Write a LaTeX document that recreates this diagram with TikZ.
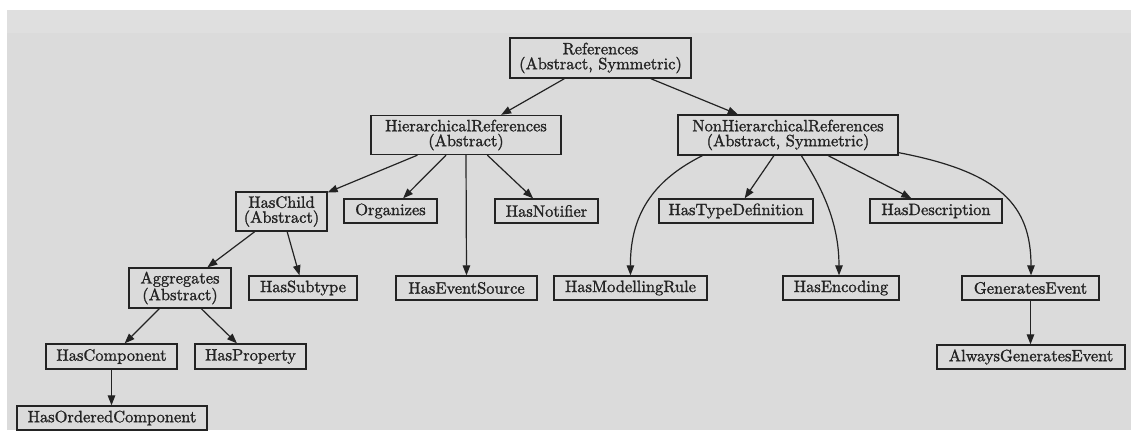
\documentclass[tikz,border=0pt]{standalone}
\usepackage{fontspec}
\newfontfamily\nodefont{lmroman10-regular}[Extension=.otf,FakeBold=1.4]
\usetikzlibrary{arrows.meta}
\definecolor{bg}{RGB}{219,219,219}
\definecolor{bgtop}{RGB}{223,223,223}
\definecolor{ink}{RGB}{35,35,35}
\tikzset{
  box/.style={draw=ink, line width=1.3bp, inner sep=0pt, align=center, text=ink,
    font=\nodefont\fontsize{16.5}{15}\selectfont, minimum height=24bp},
  tall/.style={minimum height=40bp},
  arr/.style={draw=ink, line width=1.2bp, -{Triangle[length=10bp,width=7.5bp]}},
}
\begin{document}
\begin{tikzpicture}[x=1bp,y=-1bp]
\useasboundingbox (0,0) rectangle (1131,430);
\fill[white] (0,0) rectangle (1131,430);
\fill[bg] (7,10) rectangle (1131,430);
\fill[bgtop] (7,10) rectangle (1131,33);

\node[box,tall,minimum width=181bp] (ref) at (600.5,58) {References\\(Abstract, Symmetric)};
\node[box,tall,minimum width=190bp,minimum height=39bp] (hier) at (466,135) {HierarchicalReferences\\(Abstract)};
\node[box,tall,minimum width=220bp] (nonh) at (788,135) {NonHierarchicalReferences\\(Abstract, Symmetric)};

\node[box,tall,minimum width=91bp,minimum height=39bp] (haschild) at (281.5,211.5) {HasChild\\(Abstract)};
\node[box,minimum width=93bp] (org) at (390.5,211) {Organizes};
\node[box,minimum width=103bp] (notif) at (546.5,211) {HasNotifier};
\node[box,minimum width=154bp] (typedef) at (736,211) {HasTypeDefinition};
\node[box,minimum width=132bp] (desc) at (936,211) {HasDescription};

\node[box,tall,minimum width=102bp] (aggr) at (180,288) {Aggregates\\(Abstract)};
\node[box,minimum width=108bp] (subtype) at (303,288) {HasSubtype};
\node[box,minimum width=141bp] (evsrc) at (466.5,288) {HasEventSource};
\node[box,minimum width=153bp] (modrule) at (630.5,288) {HasModellingRule};
\node[box,minimum width=116bp] (enc) at (841,288) {HasEncoding};
\node[box,minimum width=137bp] (genev) at (1030.5,288) {GeneratesEvent};

\node[box,minimum width=131bp,minimum height=25bp] (hascomp) at (111.5,356.5) {HasComponent};
\node[box,minimum width=111bp,minimum height=25bp] (hasprop) at (250.5,356.5) {HasProperty};
\node[box,minimum width=188bp] (always) at (1031,357) {AlwaysGeneratesEvent};

\node[box,minimum width=190bp] (ordered) at (112,418) {HasOrderedComponent};

\draw[arr] (ref) -- (hier);
\draw[arr] (ref) -- (nonh);
\draw[arr] (hier) -- (haschild);
\draw[arr] (hier) -- (org);
\draw[arr] (hier.south) -- (evsrc.north);
\draw[arr] (hier) -- (notif);
\draw[arr] (nonh) -- (typedef);
\draw[arr] (nonh) -- (desc);
\draw[arr] ([xshift=25bp]nonh.south west) .. controls (658,178) and (630,210) .. (modrule.north);
\draw[arr] ([xshift=124bp]nonh.south west) .. controls (820,185) and (839,220) .. ([xshift=-2bp]enc.north);
\draw[arr] ([yshift=3bp]nonh.south east) .. controls (1000,172) and (1031,205) .. ([xshift=0.5bp]genev.north);
\draw[arr] (haschild) -- (aggr);
\draw[arr] (haschild) -- (subtype);
\draw[arr] (aggr) -- (hascomp);
\draw[arr] (aggr) -- (hasprop);
\draw[arr] (hascomp.south) -- (ordered.north -| hascomp.south);
\draw[arr] (genev.south) -- (always.north -| genev.south);
\end{tikzpicture}
\end{document}
